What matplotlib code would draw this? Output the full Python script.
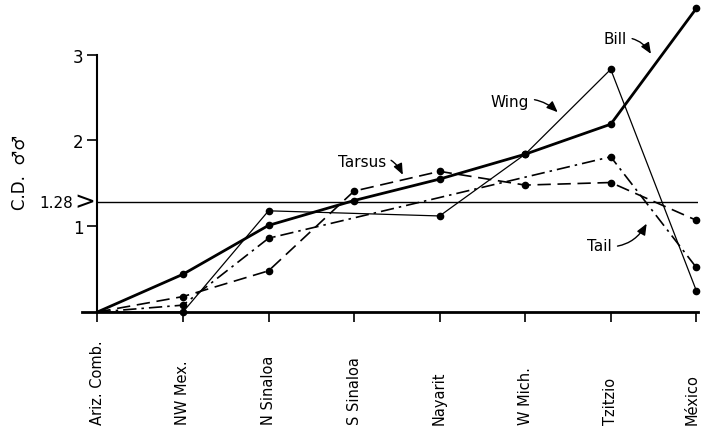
import numpy as np
import matplotlib
matplotlib.use("Agg")
import matplotlib.pyplot as plt
from matplotlib.transforms import blended_transform_factory

# categories along the transect
places = ["Ariz. Comb.", "NW Mex.", "N Sinaloa", "S Sinaloa",
          "Nayarit", "W Mich.", "Tzitzio", "México"]

# C.D. values (nan = no point plotted there)
bill = [0, 0.44, 1.01, 1.30, 1.55, 1.84, 2.19, 3.54]
wing = [0, 0.00, 1.18, np.nan, 1.12, 1.84, 2.83, 0.25]
tarsus = [0, 0.18, 0.48, 1.41, 1.64, 1.48, 1.51, 1.07]
tail = [0, 0.08, 0.86, np.nan, np.nan, np.nan, 1.81, 0.52]
cd_line = 1.28

W, H = 702, 431
fig = plt.figure(figsize=(W / 100, H / 100), dpi=100)
# axes placed so x index 0 sits at ~97px and y=0 at ~313px
ax = fig.add_axes([82 / W, (H - 313) / H, 616 / W, 313 / H])
ax.set_xlim(-0.18, 7.02)
ax.set_ylim(0, 3.65)

x = np.arange(len(places))


def draw(vals, **kw):
    v = np.asarray(vals, dtype=float)
    ok = np.isfinite(v)
    xs, ys = x[ok], v[ok]
    ax.plot(xs, ys, color="black", clip_on=False, **kw)
    ax.plot(xs[1:], ys[1:], "o", color="black", ms=4.5, clip_on=False, zorder=5)


draw(bill, lw=2.0)
draw(wing, lw=0.9)
draw(tarsus, lw=1.2, dashes=(8, 4))
draw(tail, lw=1.2, dashes=(8, 3, 1.5, 3))

ax.axhline(cd_line, xmin=0.18 / 7.2, xmax=1.0, color="black", lw=1.0)

# spines / ticks
for s in ("top", "right"):
    ax.spines[s].set_visible(False)
ax.spines["left"].set_position(("data", 0))
ax.spines["left"].set_bounds(0, 3)
ax.spines["left"].set_linewidth(1.5)
ax.spines["bottom"].set_linewidth(2.0)
ax.set_yticks([1, 2, 3])
ax.set_yticklabels(["1", "2", "3"], fontsize=12)
ax.tick_params(axis="y", direction="out", length=7, width=1.2, pad=3)
ax.set_xticks(x)
ax.set_xticklabels([])
ax.tick_params(axis="x", direction="out", length=7, width=1.2)

# rotated place names, bottom aligned
tr = blended_transform_factory(ax.transData, fig.transFigure)
for xi, name in zip(x, places):
    nudge = -0.05 if xi == x[-1] else 0
    ax.text(xi + nudge, 6 / H, name, transform=tr, rotation=90, ha="center",
            va="bottom", fontsize=10.5)

# 1.28 marker on the axis
ax.text(-0.29, cd_line, "1.28", ha="right", va="center", fontsize=11,
        clip_on=False)
ax.text(-0.02, cd_line + 0.01, ">", ha="right", va="center", fontsize=18,
        clip_on=False)

fig.text(20 / W, 1 - 172 / H, "C.D.  ♂♂", rotation=90, ha="center",
         va="center", fontsize=12)

# curved labels
arrow = dict(arrowstyle="-|>,head_length=0.6,head_width=0.25", color="black",
             lw=1.0, shrinkA=2, shrinkB=0)
ax.annotate("Bill", xy=(6.47, 3.01), xytext=(6.05, 3.19), ha="center",
            va="center", fontsize=11,
            arrowprops=dict(arrow, connectionstyle="arc3,rad=-0.35"))
ax.annotate("Wing", xy=(5.38, 2.33), xytext=(4.82, 2.45), ha="center",
            va="center", fontsize=11,
            arrowprops=dict(arrow, connectionstyle="arc3,rad=-0.3"))
ax.annotate("Tarsus", xy=(3.57, 1.60), xytext=(3.09, 1.76), ha="center",
            va="center", fontsize=11,
            arrowprops=dict(arrow, connectionstyle="arc3,rad=-0.5"))
ax.annotate("Tail", xy=(6.42, 1.03), xytext=(5.87, 0.77), ha="center",
            va="center", fontsize=11,
            arrowprops=dict(arrow, connectionstyle="arc3,rad=0.35"))

fig.savefig("out.png", dpi=100)
